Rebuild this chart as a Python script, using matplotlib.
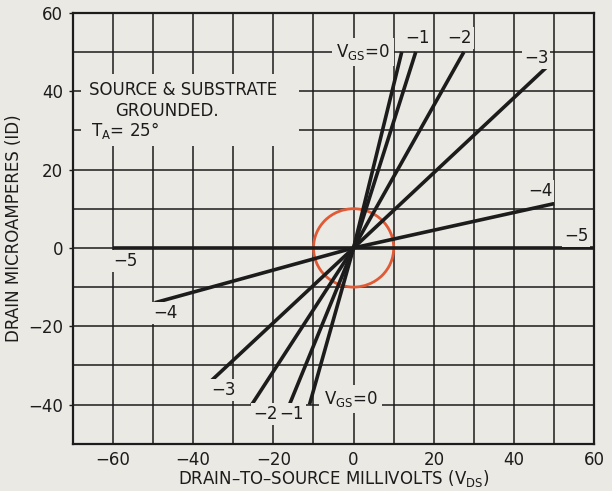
import numpy as np
import matplotlib
matplotlib.use('Agg')
import matplotlib.pyplot as plt
from matplotlib.patches import Circle, Rectangle

# gate voltage curves: (negative end) -> origin -> (positive end)
vgs = ['0', '-1', '-2', '-3', '-4', '-5']
neg_vds = [-11.0, -16.0, -25.4, -35.6, -49.6, -60.0]
neg_id = [-40.0, -40.0, -40.0, -34.0, -14.0, 0.0]
pos_vds = [12.0, 15.5, 27.5, 48.0, 50.0, 60.0]
pos_id = [50.0, 50.0, 50.0, 46.0, 11.3, 0.0]

# curve labels
top_labels = ['\u22121', '\u22122', '\u22123', '\u22124', '\u22125']
top_lx = [16.0, 26.5, 45.5, 46.5, 55.5]
top_ly = [53.5, 53.5, 48.5, 14.5, 3.0]
bot_labels = ['\u22125', '\u22124', '\u22123', '\u22122', '\u22121']
bot_lx = [-57.0, -47.0, -32.4, -22.0, -15.5]
bot_ly = [-3.3, -16.7, -36.2, -42.3, -42.3]

xticks = [-60, -40, -20, 0, 20, 40, 60]
yticks = [-40, -20, 0, 20, 40, 60]

bg = '#ebe9e4'
ink = '#1c1c1c'

plt.rcParams['font.family'] = ['DejaVu Sans']
plt.rcParams['mathtext.default'] = 'regular'

fig = plt.figure(figsize=(6.12, 4.91), dpi=100, facecolor=bg)
ax = fig.add_subplot(111, facecolor=bg)
fig.subplots_adjust(left=0.119, right=0.971, top=0.974, bottom=0.096)

ax.set_xlim(-70, 60)
ax.set_ylim(-50, 60)
ax.set_xticks(xticks)
ax.set_yticks(yticks)
ax.set_xticks(np.arange(-70, 61, 10), minor=True)
ax.set_yticks(np.arange(-50, 61, 10), minor=True)
ax.grid(True, which='both', color=ink, lw=1.1)
ax.set_axisbelow(True)
ax.tick_params(which='both', length=0, labelsize=12, colors=ink, pad=5)
ax.tick_params(axis='y', which='major', length=3, width=1.0, pad=4)
for s in ax.spines.values():
    s.set_linewidth(1.6)
    s.set_color(ink)

for i in range(len(vgs)):
    ax.plot([neg_vds[i], 0, pos_vds[i]], [neg_id[i], 0, pos_id[i]],
            color=ink, lw=2.6, solid_capstyle='butt', zorder=3)

ax.add_patch(Circle((0, 0), 10, fill=False, edgecolor='#e05a35', lw=2.0, zorder=2.5))

box = dict(facecolor=bg, edgecolor='none', pad=1.5)
for t, x, y in zip(top_labels, top_lx, top_ly):
    ax.text(x, y, t, fontsize=12, ha='center', va='center', color=ink, bbox=box, zorder=4)
for t, x, y in zip(bot_labels, bot_lx, bot_ly):
    ax.text(x, y, t, fontsize=12, ha='center', va='center', color=ink, bbox=box, zorder=4)
ax.text(9, 50, 'V$_{GS}$=0', fontsize=12, ha='right', va='center', color=ink,
        bbox=dict(facecolor=bg, edgecolor='none', pad=3), zorder=4)
ax.text(-7.5, -38.5, 'V$_{GS}$=0', fontsize=12, ha='left', va='center', color=ink,
        bbox=dict(facecolor=bg, edgecolor='none', pad=3), zorder=4)

# note block
ax.add_patch(Rectangle((-68, 26), 54.5, 18.3, facecolor=bg, edgecolor='none', zorder=1.5))
ax.text(-66, 40.3, 'SOURCE & SUBSTRATE', fontsize=12, ha='left', va='center', color=ink, zorder=4)
ax.text(-59.5, 35.0, 'GROUNDED.', fontsize=12, ha='left', va='center', color=ink, zorder=4)
ax.text(-65.5, 30.0, 'T$_A$= 25\u00b0', fontsize=12, ha='left', va='center', color=ink, zorder=4)

ax.set_xlabel('DRAIN\u2013TO\u2013SOURCE MILLIVOLTS (V$_{DS}$)', fontsize=12, color=ink)
ax.set_ylabel('DRAIN MICROAMPERES (ID)', fontsize=12, color=ink)
ax.xaxis.set_label_coords(0.5, -0.057)
ax.yaxis.set_label_coords(-0.096, 0.5)

fig.savefig('out.png', dpi=100, facecolor=bg)
